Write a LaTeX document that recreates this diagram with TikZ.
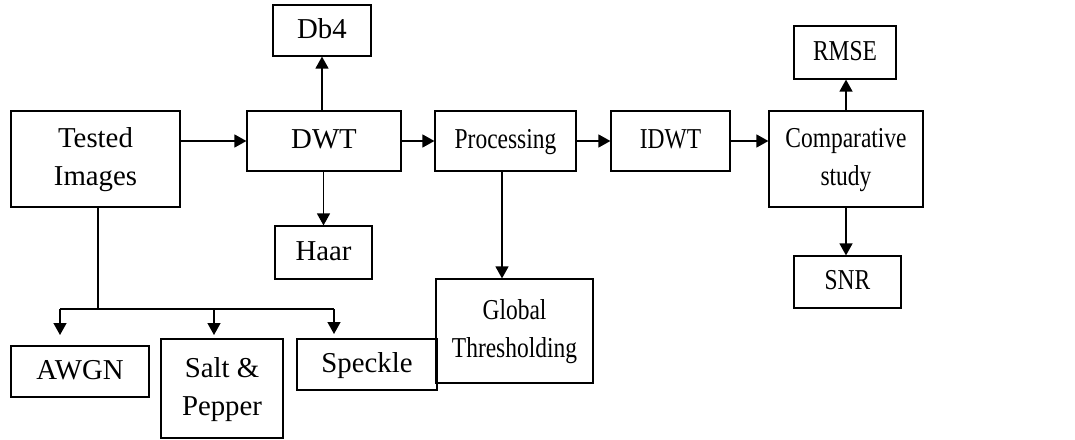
\documentclass[tikz,border=0pt]{standalone}
\usepackage{fontspec}
\usepackage{graphicx}
\setmainfont{Liberation Serif}
\usetikzlibrary{arrows.meta}
% block text: centred lines; the narrow variant squeezes letters sideways
\newcommand\blocktext[1]{\begin{tabular}{@{}c@{}}#1\end{tabular}}
\newcommand\narrowtext[1]{\scalebox{0.815}[1]{\begin{tabular}{@{}c@{}}#1\end{tabular}}}
\tikzset{
  box/.style={draw, line width=1.2pt, rectangle, inner sep=0pt, anchor=center,
    font=\fontsize{28.8}{38}\selectfont},
  conn/.style={line width=1.4pt},
  flow/.style={conn, -{Triangle[length=12pt,width=13pt]}}
}
\begin{document}
\begin{tikzpicture}[x=1pt, y=-1pt]
\useasboundingbox (0,0) rectangle (1075,439);

% main chain
\node[box, minimum width=169pt, minimum height=96pt] (tested) at (95.5,159) {\blocktext{Tested\\Images}};
\node[box, minimum width=154pt, minimum height=60pt] (dwt) at (324,141) {\blocktext{DWT}};
\node[box, minimum width=141pt, minimum height=60pt] (proc) at (505.5,141) {\narrowtext{Processing}};
\node[box, minimum width=119pt, minimum height=60pt] (idwt) at (670.5,141) {\narrowtext{IDWT}};
\node[box, minimum width=154pt, minimum height=96pt] (comp) at (846,159) {\narrowtext{Comparative\\study}};

% wavelet choices
\node[box, minimum width=98pt, minimum height=51pt] (db4) at (322,30.5) {\blocktext{Db4}};
\node[box, minimum width=97pt, minimum height=53pt] (haar) at (323.5,252.5) {\blocktext{Haar}};

% thresholding
\node[box, minimum width=157pt, minimum height=104pt] (glob) at (514.5,331) {\narrowtext{Global\\Thresholding}};

% quality measures
\node[box, minimum width=102pt, minimum height=53pt] (rmse) at (845,52.5) {\narrowtext{RMSE}};
\node[box, minimum width=107pt, minimum height=52pt] (snr) at (847.5,282) {\narrowtext{SNR}};

% noise types
\node[box, minimum width=138pt, minimum height=51pt] (awgn) at (80,371.5) {\blocktext{AWGN}};
\node[box, minimum width=122pt, minimum height=99pt] (salt) at (222,388.5) {\blocktext{Salt \&\\Pepper}};
\node[box, minimum width=140pt, minimum height=51pt] (speck) at (367,364.5) {\blocktext{Speckle}};

% flow arrows
\draw[flow] (tested.east |- dwt.center) -- (dwt.west);
\draw[flow] (dwt) -- (proc);
\draw[flow] (proc) -- (idwt);
\draw[flow] (idwt.east) -- (idwt.east -| comp.west);
\draw[flow] (dwt.north -| db4) -- (db4.south);
\draw[flow] (dwt.south -| haar) -- (haar.north);
\draw[flow] ([xshift=-3.5pt]proc.south) -- ([xshift=-3.5pt]proc.south |- glob.north);
\draw[flow] (comp.north) -- (comp.north |- rmse.south);
\draw[flow] (comp.south) -- (comp.south |- snr.north);

% noise branch
\coordinate (split) at (98,309);
\coordinate (bl) at (60,309);
\coordinate (br) at (334,309);
\coordinate (ta) at (60,335);
\coordinate (tb) at (214,335);
\coordinate (tc) at (334,334);
\draw[conn] (tested.south -| split) -- (split);
\draw[conn] (bl) -- (br);
\draw[flow] (bl) -- (ta);
\draw[flow] (tb |- split) -- (tb);
\draw[flow] (br) -- (tc);
\end{tikzpicture}
\end{document}
